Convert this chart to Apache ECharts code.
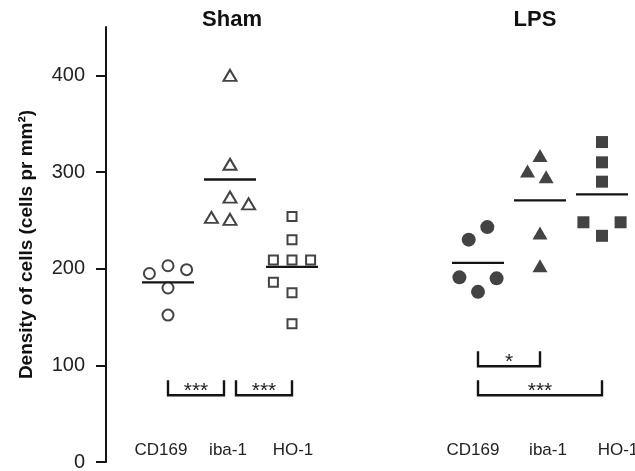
<!DOCTYPE html>
<html><head><meta charset="utf-8">
<script src="https://cdn.jsdelivr.net/npm/echarts@6/dist/echarts.min.js"></script>
<style>html,body{margin:0;padding:0;background:#fff}#c{width:635px;height:471px}</style>
</head><body><div id="c"></div>
<script>
// ---- data ----
const conditions = ['Sham', 'LPS'];
const markers = ['CD169', 'iba-1', 'HO-1'];
const yTicks = [0, 100, 200, 300, 400];

const shamCD169 = [195, 203, 199, 180, 152];
const shamIba1  = [400, 308, 274, 267, 253, 251];
const shamHO1   = [254, 230, 209, 209, 209, 186, 175, 143];
const lpsCD169  = [243, 230, 191, 190, 176];
const lpsIba1   = [317, 301, 295, 237, 203];
const lpsHO1    = [331, 310, 290, 248, 248, 234];

// dodge slots: horizontal spread for points with near-equal values
const shamCD169Dodge = [-1, 0, 1, 0, 0];
const shamIba1Dodge  = [0, 0, 0, 1, -1, 0];
const shamHO1Dodge   = [0, 0, -1, 0, 1, -1, 0, 0];
const lpsCD169Dodge  = [0.5, -0.5, -1, 1, 0];
const lpsIba1Dodge   = [0, -0.67, 0.33, 0, 0];
const lpsHO1Dodge    = [0, 0, 0, -1, 1, 0];

// significance brackets
const bracketCond  = ['Sham', 'Sham', 'LPS', 'LPS'];
const bracketFrom  = ['CD169', 'iba-1', 'CD169', 'CD169'];
const bracketTo    = ['iba-1', 'HO-1', 'iba-1', 'HO-1'];
const bracketLevel = [69, 69, 99, 69];
const bracketLabel = ['***', '***', '*', '***'];

// ---- layout / style ----
const DODGE = 0.3;           // x-units per dodge slot
const COND_GAP = 5;          // x-units between condition blocks
const INK = '#141414';
const FONT = '"Liberation Sans", Arial, Helvetica, sans-serif';
const pos = (c, m) => conditions.indexOf(c) * COND_GAP + markers.indexOf(m);
// horizontal nudge (px) of each category label, in the order Sham x3, LPS x3
const labelNudge = [-7, -2, 1, -5, 8, 16];

const groups = [
  {c:'Sham', m:'CD169', v:shamCD169, d:shamCD169Dodge, sym:'circle',   size:11, fill:false},
  {c:'Sham', m:'iba-1', v:shamIba1,  d:shamIba1Dodge,  sym:'triangle', size:[13,11], fill:false},
  {c:'Sham', m:'HO-1',  v:shamHO1,   d:shamHO1Dodge,   sym:'rect',     size:9,  fill:false},
  {c:'LPS',  m:'CD169', v:lpsCD169,  d:lpsCD169Dodge,  sym:'circle',   size:14, fill:true},
  {c:'LPS',  m:'iba-1', v:lpsIba1,   d:lpsIba1Dodge,   sym:'triangle', size:[15,13], fill:true},
  {c:'LPS',  m:'HO-1',  v:lpsHO1,    d:lpsHO1Dodge,    sym:'rect',     size:12, fill:true}
];

const series = groups.map(g => ({
  type: 'scatter',
  symbol: g.sym,
  symbolSize: g.size,
  clip: false,
  silent: true,
  itemStyle: g.fill ? {color: INK} : {color: '#fff', borderColor: INK, borderWidth: 2},
  data: g.v.map((y, i) => [pos(g.c, g.m) + g.d[i] * DODGE, y])
}));

// mean lines
const meanData = groups.map(g => [pos(g.c, g.m), g.v.reduce((a, b) => a + b, 0) / g.v.length]);
series.push({
  type: 'custom',
  silent: true,
  clip: false,
  renderItem: (params, api) => {
    const p = api.coord([api.value(0), api.value(1)]);
    return {type: 'line', shape: {x1: p[0] - 26, y1: p[1], x2: p[0] + 26, y2: p[1]},
            style: {stroke: INK, lineWidth: 2.4}};
  },
  data: meanData
});

// brackets
const bracketData = bracketCond.map((c, i) => [pos(c, bracketFrom[i]), pos(c, bracketTo[i]), bracketLevel[i], i]);
function sharesEnd(i, x) {
  return bracketData.some((b, j) => j !== i && b[2] === bracketData[i][2] && (b[0] === x || b[1] === x));
}
series.push({
  type: 'custom',
  silent: true,
  clip: false,
  renderItem: (params, api) => {
    const i = api.value(3);
    const a = api.coord([api.value(0), api.value(2)]);
    const b = api.coord([api.value(1), api.value(2)]);
    const x1 = a[0] + (sharesEnd(i, api.value(0)) ? 6 : 0);
    const x2 = b[0] - (sharesEnd(i, api.value(1)) ? 6 : 0);
    const y = a[1], h = 15;
    return {type: 'group', children: [
      {type: 'polyline', shape: {points: [[x1, y - h], [x1, y], [x2, y], [x2, y - h]]},
       style: {stroke: INK, lineWidth: 2.4, fill: null}},
      {type: 'text', style: {text: bracketLabel[i], x: (x1 + x2) / 2, y: y - 4,
        align: 'center', verticalAlign: 'middle', fill: '#1e1e1e', font: '21px ' + FONT}}
    ]};
  },
  data: bracketData
});

const labelAt = {};
const rich = {};
let k = 0;
conditions.forEach(c => markers.forEach(m => {
  const n = labelNudge[k];
  labelAt[pos(c, m)] = '{n' + k + '|' + m + '}';
  rich['n' + k] = {fontSize: 17, color: '#222', fontFamily: FONT,
    padding: n >= 0 ? [0, 0, 0, 2 * n] : [0, -2 * n, 0, 0]};
  k++;
}));

const chart = echarts.init(document.getElementById('c'), null, {renderer: 'canvas'});
chart.setOption({
  backgroundColor: '#fff',
  animation: false,
  textStyle: {fontFamily: FONT},
  title: [
    {text: conditions[0], left: 227, top: 4, textAlign: 'center',
     textStyle: {fontSize: 22, fontWeight: 'bold', color: '#111', fontFamily: FONT}},
    {text: conditions[1], left: 530, top: 4, textAlign: 'center',
     textStyle: {fontSize: 22, fontWeight: 'bold', color: '#111', fontFamily: FONT}}
  ],
  grid: {left: 106, right: 2, top: 27, bottom: 9, containLabel: false, outerBoundsMode: 'none'},
  xAxis: {
    type: 'value', min: -1, max: 7.5, interval: 1,
    axisLine: {show: false}, axisTick: {show: false}, splitLine: {show: false},
    axisLabel: {inside: true, margin: 3, fontSize: 17, color: '#222', fontFamily: FONT,
      formatter: v => labelAt[v] || '', rich: rich}
  },
  yAxis: {
    type: 'value', min: 0, max: 450, interval: 50,
    name: 'Density of cells (cells pr mm²)', nameLocation: 'middle', nameGap: 70, nameRotate: 90,
    nameTextStyle: {fontSize: 19, fontWeight: 'bold', color: '#111', fontFamily: FONT},
    axisLine: {show: true, onZero: false, lineStyle: {color: INK, width: 2}},
    axisTick: {show: true, length: 10, lineStyle: {color: INK, width: 2}, customValues: yTicks},
    axisLabel: {margin: 21, fontSize: 20, color: '#222', fontFamily: FONT, customValues: yTicks},
    splitLine: {show: false}
  },
  series: series
});
</script></body></html>
